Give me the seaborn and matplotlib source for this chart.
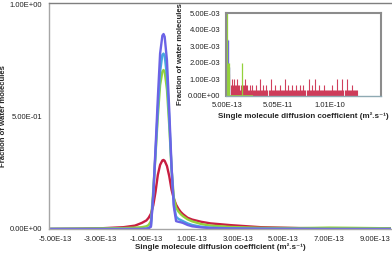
import numpy as np
import matplotlib
matplotlib.use("Agg")
import matplotlib.pyplot as plt
import seaborn as sns

# main chart: x in units of 1e-13 m2/s
x_main = [-5.25, -4, -3, -2, -1.5, -1.2, -1.0, -0.9, -0.8, -0.7, -0.6, -0.5, -0.4, -0.3, -0.25,
          -0.2, -0.1, 0, 0.1, 0.2, 0.3, 0.4, 0.5, 0.6, 0.8, 1.0, 1.4, 1.8, 2.7, 4, 5.7, 7, 8, 9.7]
red = [0.0, 0.001, 0.003, 0.008, 0.015, 0.027, 0.038, 0.05, 0.068, 0.105, 0.165, 0.24, 0.285, 0.305, 0.307,
       0.303, 0.28, 0.235, 0.175, 0.135, 0.108, 0.09, 0.076, 0.066, 0.05, 0.042, 0.032, 0.025, 0.017, 0.008,
       0.004, 0.003, 0.002, 0.002]
green = [0.001, 0.002, 0.003, 0.004, 0.006, 0.008, 0.012, 0.018, 0.035, 0.17, 0.33, 0.5, 0.64, 0.7, 0.707,
         0.7, 0.62, 0.46, 0.27, 0.14, 0.095, 0.078, 0.066, 0.057, 0.043, 0.034, 0.022, 0.015, 0.009, 0.005,
         0.004, 0.006, 0.005, 0.003]
lightblue = [0, 0, 0, 0, 0, 0, 0.002, 0.005, 0.015, 0.15, 0.34, 0.53, 0.7, 0.775, 0.78,
             0.77, 0.68, 0.49, 0.27, 0.11, 0.055, 0.045, 0.04, 0.035, 0.025, 0.018, 0.01, 0.006, 0.003, 0.001,
             0, 0, 0, 0]
violet = [0, 0, 0, 0, 0, 0, 0.001, 0.003, 0.01, 0.15, 0.36, 0.58, 0.78, 0.86, 0.867,
          0.855, 0.75, 0.53, 0.28, 0.1, 0.035, 0.032, 0.03, 0.027, 0.018, 0.012, 0.007, 0.004, 0.002, 0.001,
          0.001, 0, 0, 0]

main_xticks = [-5e-13, -3e-13, -1e-13, 1e-13, 3e-13, 5e-13, 7e-13, 9e-13]
main_yticks = [0, 0.5, 1.0]

# inset: counts per bin (1 count = 1/3000), bins of 1e-12 starting at 1e-12
count_unit = 1 / 3000
red_counts = [7, 4, 4, 2, 3, 2, 3, 2, 2, 3, 2, 2, 1, 2, 1, 2, 2, 3, 2, 2,
              1, 1, 2, 1, 2, 1, 1, 1, 2, 1, 1, 1, 3, 1, 1, 2, 1, 1, 2, 1,
              1, 1, 3, 1, 1, 1, 2, 1, 1, 1, 1, 2, 1, 1, 1, 1, 3, 1, 1, 2,
              1, 1, 1, 2, 1, 1, 1, 2, 1, 1, 1, 2, 1, 1, 2, 1, 1, 1, 1, 3,
              1, 1, 2, 1, 1, 3, 1, 1, 1, 2, 1, 1, 1, 1, 2, 1, 1, 1, 1, 1,
              1, 1, 2, 1, 1, 1, 1, 3, 1, 1, 1, 1, 3, 1, 1, 1, 3, 1, 1, 1,
              1, 2, 1, 1, 1, 1, 1]
green_pos = [0.5, 2.0, 3.0, 15.0]      # 1e-12
green_h = [5.5e-3, 2.0e-3, 2.0e-3, 2.0e-3]
green_end = 26.0
violet_pos = [0.6, 1.2, 3.0]
violet_h = [3.45e-3, 3.4e-3, 1.75e-3]

inset_xticks = [5e-13, 5.05e-11, 1.005e-10]
inset_xticklabels = ["5.00E-13", "5.05E-11", "1.01E-10"]
inset_yticks = [0, 1e-3, 2e-3, 3e-3, 4e-3, 5e-3]

C_RED = "#c81e41"
C_GREEN = "#94d13c"
C_LBLUE = "#48a6e0"
C_VIOLET = "#6b63e6"
XLABEL = "Single molecule diffusion coefficient (m².s⁻¹)"
YLABEL = "Fraction of water molecules"

sns.set_style("white")
plt.rcParams["font.family"] = ["Liberation Sans Narrow", "Liberation Sans", "DejaVu Sans"]
plt.rcParams["font.size"] = 5.5

fig = plt.figure(figsize=(3.92, 2.56), dpi=100)
ax = fig.add_axes([0.125, 0.1055, 0.8724, 0.8828])

xm = np.array(x_main) * 1e-13
for ys, c in [(red, C_RED), (green, C_GREEN), (lightblue, C_LBLUE), (violet, C_VIOLET)]:
    sns.lineplot(x=xm, y=ys, color=c, lw=1.7, sort=False, ax=ax)

ax.set_xlim(-5.26e-13, 9.7e-13)
ax.set_ylim(0, 1.005)
ax.set_xticks(main_xticks)
ax.set_xticklabels(["%.2E" % v for v in main_xticks])
ax.set_yticks(main_yticks)
ax.set_yticklabels(["%.2E" % v for v in main_yticks])
ax.tick_params(length=0, pad=5, labelsize=5.5, labelcolor="#222222")
ax.set_xlabel(XLABEL, fontweight="bold", fontsize=5.8)
ax.set_ylabel(YLABEL, fontweight="bold", fontsize=5.6)
ax.xaxis.set_label_coords(0.5, -0.065)
ax.yaxis.set_label_coords(-0.122, 0.5)
for s in ["left", "bottom"]:
    ax.spines[s].set_color("#a6a6a6")
    ax.spines[s].set_linewidth(1.0)
ax.spines["top"].set_color("#7f7f7f")
ax.spines["top"].set_linewidth(1.0)
ax.spines["right"].set_visible(False)

# inset
ins = fig.add_axes([0.5765, 0.625, 0.3954, 0.3242])
ins.set_facecolor("white")
red_x = np.arange(1, len(red_counts) + 1) * 1e-12
ins.vlines(red_x, 0, np.array(red_counts) * count_unit, color=C_RED, lw=0.8, alpha=0.85)
ins.hlines(0, 0.5e-12, green_end * 1e-12, color=C_GREEN, lw=1.2)
ins.vlines(np.array(violet_pos) * 1e-12, 0, violet_h, color=C_VIOLET, lw=1.0)
ins.vlines(np.array(green_pos) * 1e-12, 0, green_h, color=C_GREEN, lw=0.9)

ins.set_xlim(-0.4e-12, 150.5e-12)
ins.set_ylim(0, 5e-3)
ins.set_xticks(inset_xticks)
ins.set_xticklabels(inset_xticklabels)
ins.set_yticks(inset_yticks)
ins.set_yticklabels(["%.2E" % v for v in inset_yticks])
ins.tick_params(length=0, pad=4, labelsize=5.5, labelcolor="#222222")
ins.set_xlabel(XLABEL, fontweight="bold", fontsize=5.8)
ins.set_ylabel(YLABEL, fontweight="bold", fontsize=5.6)
ins.xaxis.set_label_coords(0.5, -0.2)
ins.yaxis.set_label_coords(-0.27, 0.5)
for s in ["left", "top", "right"]:
    ins.spines[s].set_color("#8c8c8c")
    ins.spines[s].set_linewidth(1.5)
ins.spines["bottom"].set_color("#8faab3")
ins.spines["bottom"].set_linewidth(1.0)

fig.savefig("out.png", dpi=100)
